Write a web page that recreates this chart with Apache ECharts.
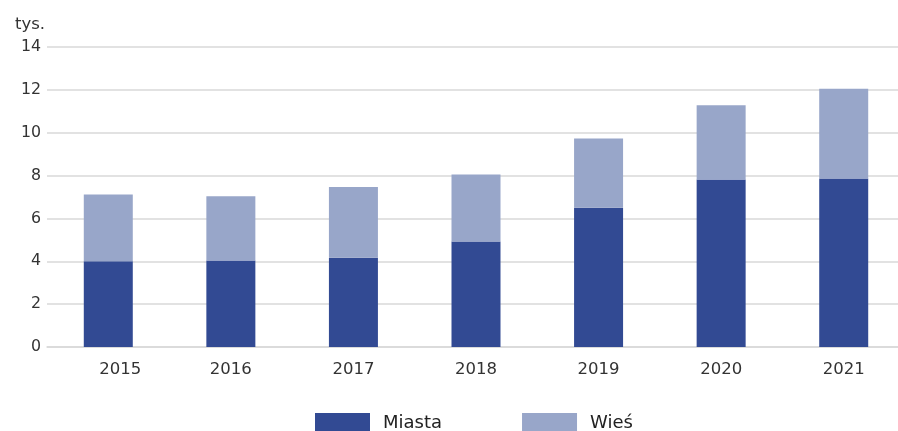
<!DOCTYPE html>
<html><head><meta charset="utf-8">
<script src="https://cdn.jsdelivr.net/npm/echarts@6/dist/echarts.min.js"></script>
<style>html,body{margin:0;padding:0;background:#fff}#c{width:898px;height:431px}</style>
</head><body><div id="c"></div>
<script>
const years = ['2015','2016','2017','2018','2019','2020','2021'];
const miasta = [4.0, 4.04, 4.16, 4.92, 6.5, 7.82, 7.86];
const wies = [3.12, 3.0, 3.31, 3.13, 3.23, 3.46, 4.19];
const yTicks = [0, 2, 4, 6, 8, 10, 12, 14];

const chart = echarts.init(document.getElementById('c'));
const font = '"DejaVu Sans", "Noto Sans", sans-serif';
const catData = years.map((y, i) => i === 0 ? {value: y, textStyle: {padding: [0, 0, 0, 24]}} : y);
chart.setOption({
  animation: false,
  textStyle: {fontFamily: font},
  grid: {left: 47, width: 858, top: 47, bottom: 84, outerBoundsMode: 'none', containLabel: false},
  legend: {
    top: 408, left: 310,
    icon: 'rect',
    itemWidth: 55, itemHeight: 21, itemGap: 80,
    textStyle: {fontSize: 18, color: '#222', fontFamily: font, padding: [0, 0, 0, 8]},
    data: ['Miasta', 'Wieś']
  },
  xAxis: {
    type: 'category', data: catData,
    axisLine: {lineStyle: {color: '#d9d9d9', width: 1.5}},
    axisTick: {show: false},
    axisLabel: {fontSize: 16.5, color: '#333', margin: 14, fontFamily: font}
  },
  yAxis: {
    type: 'value', min: yTicks[0], max: yTicks[yTicks.length - 1], interval: 2,
    name: 'tys.', nameLocation: 'end', nameGap: 14,
    nameTextStyle: {fontSize: 16.5, color: '#333', align: 'right', padding: [0, 2, 0, 0], fontFamily: font},
    axisLine: {show: false}, axisTick: {show: false},
    axisLabel: {fontSize: 15.8, color: '#333', margin: 6, fontFamily: font},
    splitLine: {lineStyle: {color: '#d9d9d9', width: 1.5}}
  },
  series: [
    {name: 'Miasta', type: 'bar', stack: 's', data: miasta, barWidth: 49, itemStyle: {color: '#324a93'}},
    {name: 'Wieś', type: 'bar', stack: 's', data: wies, barWidth: 49, itemStyle: {color: '#98a6c9'}}
  ]
});
</script></body></html>
